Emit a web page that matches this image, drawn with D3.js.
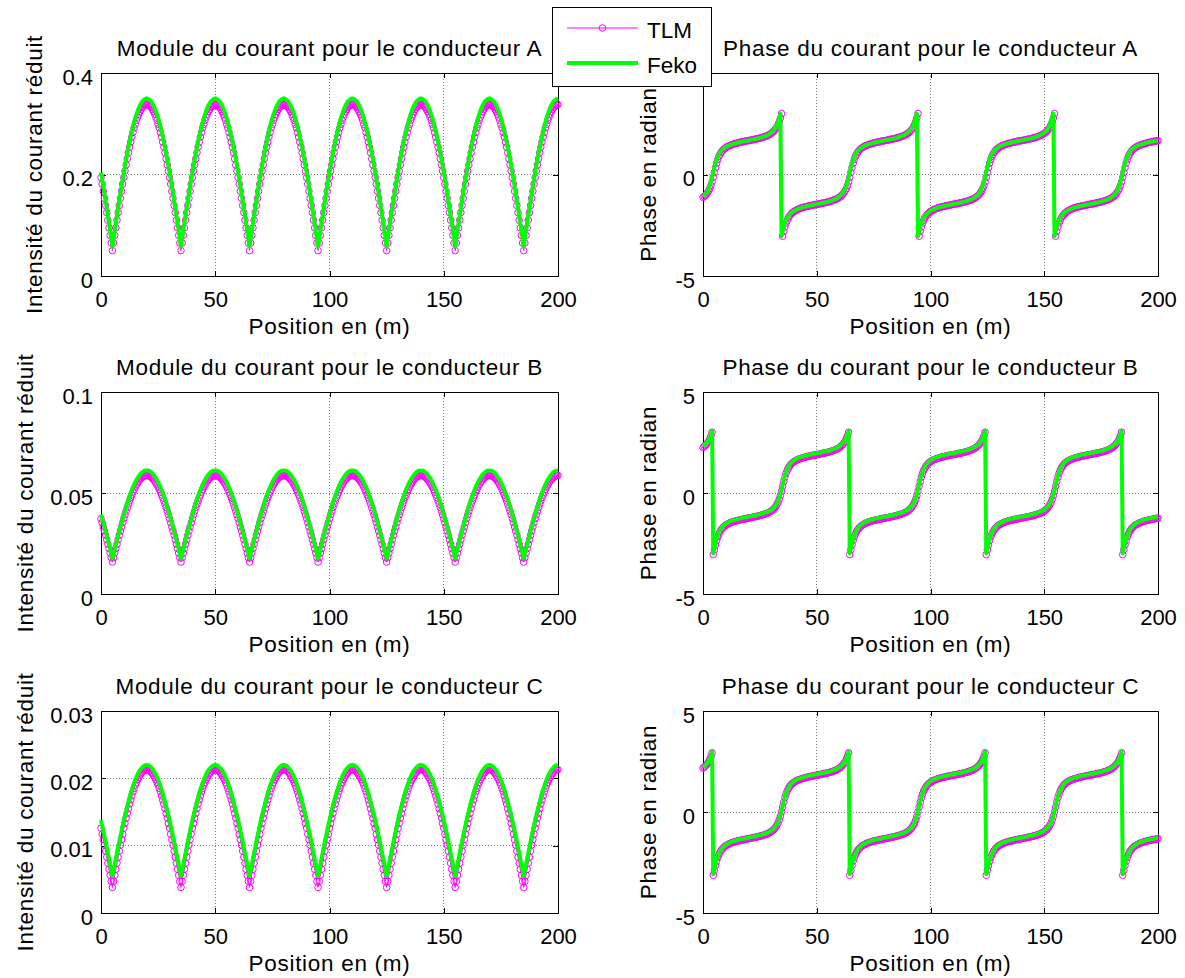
<!DOCTYPE html>
<html>
<head>
<meta charset="utf-8">
<script src="https://cdn.jsdelivr.net/npm/d3@7"></script>
<style>
  body { margin: 0; background: #fff; }
  svg { display: block; }
</style>
</head>
<body>
<svg id="fig" width="1185" height="978"></svg>
<script>
// ---- Axis ticks and text ----
const X_MAX = 200;
const xTickValues = [0, 50, 100, 150, 200];
const xTickLabels = ["0", "50", "100", "150", "200"];
const modATicks = [0, 0.2, 0.4];
const modATickLabels = ["0", "0.2", "0.4"];
const modBTicks = [0, 0.05, 0.1];
const modBTickLabels = ["0", "0.05", "0.1"];
const modCTicks = [0, 0.01, 0.02, 0.03];
const modCTickLabels = ["0", "0.01", "0.02", "0.03"];
const phaseTicks = [-5, 0, 5];
const phaseTickLabels = ["-5", "0", "5"];
const titles = [
  "Module du courant pour le conducteur A", "Phase du courant pour le conducteur A",
  "Module du courant pour le conducteur B", "Phase du courant pour le conducteur B",
  "Module du courant pour le conducteur C", "Phase du courant pour le conducteur C"
];
const yLabelModule = "Intensité du courant réduit";
const yLabelPhase = "Phase en radian";
const xLabel = "Position en (m)";
const seriesNames = ["TLM", "Feko"];

// ---- Current magnitude, conductor A (Feko every 1 m, TLM every 0.5 m) ----
const fekoModA = [.204,.177,.148,.119,.089,
.058,.089,.119,.148,.177,.204,.230,.253,.275,.294,.311,.325,.336,.344,.348,.350,.348,.344,.336,.325,.311,.294,.275,.253,.230,.204,.177,.148,.119,.089,
.058,.089,.119,.148,.177,.204,.230,.253,.275,.294,.311,.325,.336,.344,.348,.350,.348,.344,.336,.325,.311,.294,.275,.253,.230,.204,.177,.148,.119,.089,
.058,.089,.119,.148,.177,.204,.230,.253,.275,.294,.311,.325,.336,.344,.348,.350,.348,.344,.336,.325,.311,.294,.275,.253,.230,.204,.177,.148,.119,.089,
.058,.089,.119,.148,.177,.204,.230,.253,.275,.294,.311,.325,.336,.344,.348,.350,.348,.344,.336,.325,.311,.294,.275,.253,.230,.204,.177,.148,.119,.089,
.058,.089,.119,.148,.177,.204,.230,.253,.275,.294,.311,.325,.336,.344,.348,.350,.348,.344,.336,.325,.311,.294,.275,.253,.230,.204,.177,.148,.119,.089,
.058,.089,.119,.148,.177,.204,.230,.253,.275,.294,.311,.325,.336,.344,.348,.350,.348,.344,.336,.325,.311,.294,.275,.253,.230,.204,.177,.148,.119,.089,
.058,.089,.119,.148,.177,.204,.230,.253,.275,.294,.311,.325,.336,.344,.348,.350];

const tlmModA = [.194,.181,.167,.153,.139,.125,.110,.095,.080,.065,
.050,.065,.080,.095,.110,.125,.139,.153,.167,.181,.194,.207,.219,.231,.243,.254,.264,.274,.283,.292,.299,.307,.313,.319,.324,.328,.332,.334,.336,.338,.338,.338,.336,.334,.332,.328,.324,.319,.313,.307,.299,.292,.283,.274,.264,.254,.243,.231,.219,.207,.194,.181,.167,.153,.139,.125,.110,.095,.080,.065,
.050,.065,.080,.095,.110,.125,.139,.153,.167,.181,.194,.207,.219,.231,.243,.254,.264,.274,.283,.292,.299,.307,.313,.319,.324,.328,.332,.334,.336,.338,.338,.338,.336,.334,.332,.328,.324,.319,.313,.307,.299,.292,.283,.274,.264,.254,.243,.231,.219,.207,.194,.181,.167,.153,.139,.125,.110,.095,.080,.065,
.050,.065,.080,.095,.110,.125,.139,.153,.167,.181,.194,.207,.219,.231,.243,.254,.264,.274,.283,.292,.299,.307,.313,.319,.324,.328,.332,.334,.336,.338,.338,.338,.336,.334,.332,.328,.324,.319,.313,.307,.299,.292,.283,.274,.264,.254,.243,.231,.219,.207,.194,.181,.167,.153,.139,.125,.110,.095,.080,.065,
.050,.065,.080,.095,.110,.125,.139,.153,.167,.181,.194,.207,.219,.231,.243,.254,.264,.274,.283,.292,.299,.307,.313,.319,.324,.328,.332,.334,.336,.338,.338,.338,.336,.334,.332,.328,.324,.319,.313,.307,.299,.292,.283,.274,.264,.254,.243,.231,.219,.207,.194,.181,.167,.153,.139,.125,.110,.095,.080,.065,
.050,.065,.080,.095,.110,.125,.139,.153,.167,.181,.194,.207,.219,.231,.243,.254,.264,.274,.283,.292,.299,.307,.313,.319,.324,.328,.332,.334,.336,.338,.338,.338,.336,.334,.332,.328,.324,.319,.313,.307,.299,.292,.283,.274,.264,.254,.243,.231,.219,.207,.194,.181,.167,.153,.139,.125,.110,.095,.080,.065,
.050,.065,.080,.095,.110,.125,.139,.153,.167,.181,.194,.207,.219,.231,.243,.254,.264,.274,.283,.292,.299,.307,.313,.319,.324,.328,.332,.334,.336,.338,.338,.338,.336,.334,.332,.328,.324,.319,.313,.307,.299,.292,.283,.274,.264,.254,.243,.231,.219,.207,.194,.181,.167,.153,.139,.125,.110,.095,.080,.065,
.050,.065,.080,.095,.110,.125,.139,.153,.167,.181,.194,.207,.219,.231,.243,.254,.264,.274,.283,.292,.299,.307,.313,.319,.324,.328,.332,.334,.336,.338,.338];

// ---- Current magnitude, conductor B ----
const fekoModB = [.0394,.0353,.0311,.0267,.0222,
.0176,.0222,.0267,.0311,.0353,.0394,.0432,.0468,.0500,.0529,.0554,.0574,.0591,.0603,.0610,.0612,.0610,.0603,.0591,.0574,.0554,.0529,.0500,.0468,.0432,.0394,.0353,.0311,.0267,.0222,
.0176,.0222,.0267,.0311,.0353,.0394,.0432,.0468,.0500,.0529,.0554,.0574,.0591,.0603,.0610,.0612,.0610,.0603,.0591,.0574,.0554,.0529,.0500,.0468,.0432,.0394,.0353,.0311,.0267,.0222,
.0176,.0222,.0267,.0311,.0353,.0394,.0432,.0468,.0500,.0529,.0554,.0574,.0591,.0603,.0610,.0612,.0610,.0603,.0591,.0574,.0554,.0529,.0500,.0468,.0432,.0394,.0353,.0311,.0267,.0222,
.0176,.0222,.0267,.0311,.0353,.0394,.0432,.0468,.0500,.0529,.0554,.0574,.0591,.0603,.0610,.0612,.0610,.0603,.0591,.0574,.0554,.0529,.0500,.0468,.0432,.0394,.0353,.0311,.0267,.0222,
.0176,.0222,.0267,.0311,.0353,.0394,.0432,.0468,.0500,.0529,.0554,.0574,.0591,.0603,.0610,.0612,.0610,.0603,.0591,.0574,.0554,.0529,.0500,.0468,.0432,.0394,.0353,.0311,.0267,.0222,
.0176,.0222,.0267,.0311,.0353,.0394,.0432,.0468,.0500,.0529,.0554,.0574,.0591,.0603,.0610,.0612,.0610,.0603,.0591,.0574,.0554,.0529,.0500,.0468,.0432,.0394,.0353,.0311,.0267,.0222,
.0176,.0222,.0267,.0311,.0353,.0394,.0432,.0468,.0500,.0529,.0554,.0574,.0591,.0603,.0610,.0612];

const tlmModB = [.0373,.0353,.0332,.0312,.0291,.0269,.0247,.0225,.0203,.0180,
.0158,.0180,.0203,.0225,.0247,.0269,.0291,.0312,.0332,.0353,.0373,.0392,.0410,.0428,.0445,.0461,.0477,.0491,.0505,.0518,.0530,.0540,.0550,.0559,.0566,.0572,.0578,.0582,.0585,.0586,.0587,.0586,.0585,.0582,.0578,.0572,.0566,.0559,.0550,.0540,.0530,.0518,.0505,.0491,.0477,.0461,.0445,.0428,.0410,.0392,.0373,.0353,.0332,.0312,.0291,.0269,.0247,.0225,.0203,.0180,
.0158,.0180,.0203,.0225,.0247,.0269,.0291,.0312,.0332,.0353,.0373,.0392,.0410,.0428,.0445,.0461,.0477,.0491,.0505,.0518,.0530,.0540,.0550,.0559,.0566,.0572,.0578,.0582,.0585,.0586,.0587,.0586,.0585,.0582,.0578,.0572,.0566,.0559,.0550,.0540,.0530,.0518,.0505,.0491,.0477,.0461,.0445,.0428,.0410,.0392,.0373,.0353,.0332,.0312,.0291,.0269,.0247,.0225,.0203,.0180,
.0158,.0180,.0203,.0225,.0247,.0269,.0291,.0312,.0332,.0353,.0373,.0392,.0410,.0428,.0445,.0461,.0477,.0491,.0505,.0518,.0530,.0540,.0550,.0559,.0566,.0572,.0578,.0582,.0585,.0586,.0587,.0586,.0585,.0582,.0578,.0572,.0566,.0559,.0550,.0540,.0530,.0518,.0505,.0491,.0477,.0461,.0445,.0428,.0410,.0392,.0373,.0353,.0332,.0312,.0291,.0269,.0247,.0225,.0203,.0180,
.0158,.0180,.0203,.0225,.0247,.0269,.0291,.0312,.0332,.0353,.0373,.0392,.0410,.0428,.0445,.0461,.0477,.0491,.0505,.0518,.0530,.0540,.0550,.0559,.0566,.0572,.0578,.0582,.0585,.0586,.0587,.0586,.0585,.0582,.0578,.0572,.0566,.0559,.0550,.0540,.0530,.0518,.0505,.0491,.0477,.0461,.0445,.0428,.0410,.0392,.0373,.0353,.0332,.0312,.0291,.0269,.0247,.0225,.0203,.0180,
.0158,.0180,.0203,.0225,.0247,.0269,.0291,.0312,.0332,.0353,.0373,.0392,.0410,.0428,.0445,.0461,.0477,.0491,.0505,.0518,.0530,.0540,.0550,.0559,.0566,.0572,.0578,.0582,.0585,.0586,.0587,.0586,.0585,.0582,.0578,.0572,.0566,.0559,.0550,.0540,.0530,.0518,.0505,.0491,.0477,.0461,.0445,.0428,.0410,.0392,.0373,.0353,.0332,.0312,.0291,.0269,.0247,.0225,.0203,.0180,
.0158,.0180,.0203,.0225,.0247,.0269,.0291,.0312,.0332,.0353,.0373,.0392,.0410,.0428,.0445,.0461,.0477,.0491,.0505,.0518,.0530,.0540,.0550,.0559,.0566,.0572,.0578,.0582,.0585,.0586,.0587,.0586,.0585,.0582,.0578,.0572,.0566,.0559,.0550,.0540,.0530,.0518,.0505,.0491,.0477,.0461,.0445,.0428,.0410,.0392,.0373,.0353,.0332,.0312,.0291,.0269,.0247,.0225,.0203,.0180,
.0158,.0180,.0203,.0225,.0247,.0269,.0291,.0312,.0332,.0353,.0373,.0392,.0410,.0428,.0445,.0461,.0477,.0491,.0505,.0518,.0530,.0540,.0550,.0559,.0566,.0572,.0578,.0582,.0585,.0586,.0587];

// ---- Current magnitude, conductor C ----
const fekoModC = [.0138,.0122,.0106,.0089,.0072,
.0055,.0072,.0089,.0106,.0122,.0138,.0152,.0165,.0178,.0188,.0198,.0206,.0212,.0216,.0219,.0220,.0219,.0216,.0212,.0206,.0198,.0188,.0178,.0165,.0152,.0138,.0122,.0106,.0089,.0072,
.0055,.0072,.0089,.0106,.0122,.0138,.0152,.0165,.0178,.0188,.0198,.0206,.0212,.0216,.0219,.0220,.0219,.0216,.0212,.0206,.0198,.0188,.0178,.0165,.0152,.0138,.0122,.0106,.0089,.0072,
.0055,.0072,.0089,.0106,.0122,.0138,.0152,.0165,.0178,.0188,.0198,.0206,.0212,.0216,.0219,.0220,.0219,.0216,.0212,.0206,.0198,.0188,.0178,.0165,.0152,.0138,.0122,.0106,.0089,.0072,
.0055,.0072,.0089,.0106,.0122,.0138,.0152,.0165,.0178,.0188,.0198,.0206,.0212,.0216,.0219,.0220,.0219,.0216,.0212,.0206,.0198,.0188,.0178,.0165,.0152,.0138,.0122,.0106,.0089,.0072,
.0055,.0072,.0089,.0106,.0122,.0138,.0152,.0165,.0178,.0188,.0198,.0206,.0212,.0216,.0219,.0220,.0219,.0216,.0212,.0206,.0198,.0188,.0178,.0165,.0152,.0138,.0122,.0106,.0089,.0072,
.0055,.0072,.0089,.0106,.0122,.0138,.0152,.0165,.0178,.0188,.0198,.0206,.0212,.0216,.0219,.0220,.0219,.0216,.0212,.0206,.0198,.0188,.0178,.0165,.0152,.0138,.0122,.0106,.0089,.0072,
.0055,.0072,.0089,.0106,.0122,.0138,.0152,.0165,.0178,.0188,.0198,.0206,.0212,.0216,.0219,.0220];

const tlmModC = [.0126,.0117,.0109,.0101,.0092,.0083,.0074,.0065,.0056,.0047,
.0038,.0047,.0056,.0065,.0074,.0083,.0092,.0101,.0109,.0117,.0126,.0133,.0141,.0148,.0155,.0162,.0168,.0174,.0180,.0185,.0190,.0194,.0198,.0201,.0204,.0207,.0209,.0211,.0212,.0213,.0213,.0213,.0212,.0211,.0209,.0207,.0204,.0201,.0198,.0194,.0190,.0185,.0180,.0174,.0168,.0162,.0155,.0148,.0141,.0133,.0126,.0117,.0109,.0101,.0092,.0083,.0074,.0065,.0056,.0047,
.0038,.0047,.0056,.0065,.0074,.0083,.0092,.0101,.0109,.0117,.0126,.0133,.0141,.0148,.0155,.0162,.0168,.0174,.0180,.0185,.0190,.0194,.0198,.0201,.0204,.0207,.0209,.0211,.0212,.0213,.0213,.0213,.0212,.0211,.0209,.0207,.0204,.0201,.0198,.0194,.0190,.0185,.0180,.0174,.0168,.0162,.0155,.0148,.0141,.0133,.0126,.0117,.0109,.0101,.0092,.0083,.0074,.0065,.0056,.0047,
.0038,.0047,.0056,.0065,.0074,.0083,.0092,.0101,.0109,.0117,.0126,.0133,.0141,.0148,.0155,.0162,.0168,.0174,.0180,.0185,.0190,.0194,.0198,.0201,.0204,.0207,.0209,.0211,.0212,.0213,.0213,.0213,.0212,.0211,.0209,.0207,.0204,.0201,.0198,.0194,.0190,.0185,.0180,.0174,.0168,.0162,.0155,.0148,.0141,.0133,.0126,.0117,.0109,.0101,.0092,.0083,.0074,.0065,.0056,.0047,
.0038,.0047,.0056,.0065,.0074,.0083,.0092,.0101,.0109,.0117,.0126,.0133,.0141,.0148,.0155,.0162,.0168,.0174,.0180,.0185,.0190,.0194,.0198,.0201,.0204,.0207,.0209,.0211,.0212,.0213,.0213,.0213,.0212,.0211,.0209,.0207,.0204,.0201,.0198,.0194,.0190,.0185,.0180,.0174,.0168,.0162,.0155,.0148,.0141,.0133,.0126,.0117,.0109,.0101,.0092,.0083,.0074,.0065,.0056,.0047,
.0038,.0047,.0056,.0065,.0074,.0083,.0092,.0101,.0109,.0117,.0126,.0133,.0141,.0148,.0155,.0162,.0168,.0174,.0180,.0185,.0190,.0194,.0198,.0201,.0204,.0207,.0209,.0211,.0212,.0213,.0213,.0213,.0212,.0211,.0209,.0207,.0204,.0201,.0198,.0194,.0190,.0185,.0180,.0174,.0168,.0162,.0155,.0148,.0141,.0133,.0126,.0117,.0109,.0101,.0092,.0083,.0074,.0065,.0056,.0047,
.0038,.0047,.0056,.0065,.0074,.0083,.0092,.0101,.0109,.0117,.0126,.0133,.0141,.0148,.0155,.0162,.0168,.0174,.0180,.0185,.0190,.0194,.0198,.0201,.0204,.0207,.0209,.0211,.0212,.0213,.0213,.0213,.0212,.0211,.0209,.0207,.0204,.0201,.0198,.0194,.0190,.0185,.0180,.0174,.0168,.0162,.0155,.0148,.0141,.0133,.0126,.0117,.0109,.0101,.0092,.0083,.0074,.0065,.0056,.0047,
.0038,.0047,.0056,.0065,.0074,.0083,.0092,.0101,.0109,.0117,.0126,.0133,.0141,.0148,.0155,.0162,.0168,.0174,.0180,.0185,.0190,.0194,.0198,.0201,.0204,.0207,.0209,.0211,.0212,.0213,.0213];

// ---- Current phase, conductor A (radians, every 0.5 m) ----
const fekoPhaseA = [-1.08,-1.03,-.97,-.89,-.80,-.69,-.54,-.36,-.14,
.10,.34,.56,.74,.89,1.00,1.09,1.17,1.23,1.28,1.32,1.36,1.39,1.42,1.44,1.46,1.48,1.50,1.52,1.53,1.55,1.56,1.58,1.59,1.60,1.61,1.63,1.64,1.65,1.66,1.67,1.68,1.69,1.70,1.72,1.73,1.74,1.75,1.76,1.78,1.79,1.81,1.82,1.84,1.86,1.88,1.90,1.93,1.95,1.99,2.02,2.07,2.12,2.18,2.25,2.34,2.46,2.60,2.78,3.00,
-3.04,-2.80,-2.58,-2.40,-2.26,-2.14,-2.05,-1.98,-1.92,-1.87,-1.82,-1.79,-1.76,-1.73,-1.70,-1.68,-1.66,-1.64,-1.62,-1.61,-1.59,-1.58,-1.57,-1.55,-1.54,-1.53,-1.52,-1.51,-1.49,-1.48,-1.47,-1.46,-1.45,-1.44,-1.43,-1.41,-1.40,-1.39,-1.38,-1.36,-1.35,-1.33,-1.32,-1.30,-1.28,-1.26,-1.24,-1.22,-1.19,-1.16,-1.12,-1.08,-1.03,-.97,-.89,-.80,-.69,-.54,-.36,-.14,
.10,.34,.56,.74,.89,1.00,1.09,1.17,1.23,1.28,1.32,1.36,1.39,1.42,1.44,1.46,1.48,1.50,1.52,1.53,1.55,1.56,1.58,1.59,1.60,1.61,1.63,1.64,1.65,1.66,1.67,1.68,1.69,1.70,1.72,1.73,1.74,1.75,1.76,1.78,1.79,1.81,1.82,1.84,1.86,1.88,1.90,1.93,1.95,1.99,2.02,2.07,2.12,2.18,2.25,2.34,2.46,2.60,2.78,3.00,
-3.04,-2.80,-2.58,-2.40,-2.26,-2.14,-2.05,-1.98,-1.92,-1.87,-1.82,-1.79,-1.76,-1.73,-1.70,-1.68,-1.66,-1.64,-1.62,-1.61,-1.59,-1.58,-1.57,-1.55,-1.54,-1.53,-1.52,-1.51,-1.49,-1.48,-1.47,-1.46,-1.45,-1.44,-1.43,-1.41,-1.40,-1.39,-1.38,-1.36,-1.35,-1.33,-1.32,-1.30,-1.28,-1.26,-1.24,-1.22,-1.19,-1.16,-1.12,-1.08,-1.03,-.97,-.89,-.80,-.69,-.54,-.36,-.14,
.10,.34,.56,.74,.89,1.00,1.09,1.17,1.23,1.28,1.32,1.36,1.39,1.42,1.44,1.46,1.48,1.50,1.52,1.53,1.55,1.56,1.58,1.59,1.60,1.61,1.63,1.64,1.65,1.66,1.67,1.68,1.69,1.70,1.72,1.73,1.74,1.75,1.76,1.78,1.79,1.81,1.82,1.84,1.86,1.88,1.90,1.93,1.95,1.99,2.02,2.07,2.12,2.18,2.25,2.34,2.46,2.60,2.78,3.00,
-3.04,-2.80,-2.58,-2.40,-2.26,-2.14,-2.05,-1.98,-1.92,-1.87,-1.82,-1.79,-1.76,-1.73,-1.70,-1.68,-1.66,-1.64,-1.62,-1.61,-1.59,-1.58,-1.57,-1.55,-1.54,-1.53,-1.52,-1.51,-1.49,-1.48,-1.47,-1.46,-1.45,-1.44,-1.43,-1.41,-1.40,-1.39,-1.38,-1.36,-1.35,-1.33,-1.32,-1.30,-1.28,-1.26,-1.24,-1.22,-1.19,-1.16,-1.12,-1.08,-1.03,-.97,-.89,-.80,-.69,-.54,-.36,-.14,
.10,.34,.56,.74,.89,1.00,1.09,1.17,1.23,1.28,1.32,1.36,1.39,1.42,1.44,1.46,1.48,1.50,1.52,1.53,1.55,1.56,1.58,1.59,1.60,1.61,1.63,1.64,1.65,1.66,1.67,1.68];

const tlmPhaseA = [-1.12,-1.08,-1.03,-.97,-.89,-.80,-.69,-.54,-.36,-.14,
.10,.34,.56,.74,.89,1.00,1.09,1.17,1.23,1.28,1.32,1.36,1.39,1.42,1.44,1.46,1.48,1.50,1.52,1.53,1.55,1.56,1.58,1.59,1.60,1.61,1.63,1.64,1.65,1.66,1.67,1.68,1.69,1.70,1.72,1.73,1.74,1.75,1.76,1.78,1.79,1.81,1.82,1.84,1.86,1.88,1.90,1.93,1.95,1.99,2.02,2.07,2.12,2.18,2.25,2.34,2.46,2.60,2.78,3.00,
-3.04,-2.80,-2.58,-2.40,-2.26,-2.14,-2.05,-1.98,-1.92,-1.87,-1.82,-1.79,-1.76,-1.73,-1.70,-1.68,-1.66,-1.64,-1.62,-1.61,-1.59,-1.58,-1.57,-1.55,-1.54,-1.53,-1.52,-1.51,-1.49,-1.48,-1.47,-1.46,-1.45,-1.44,-1.43,-1.41,-1.40,-1.39,-1.38,-1.36,-1.35,-1.33,-1.32,-1.30,-1.28,-1.26,-1.24,-1.22,-1.19,-1.16,-1.12,-1.08,-1.03,-.97,-.89,-.80,-.69,-.54,-.36,-.14,
.10,.34,.56,.74,.89,1.00,1.09,1.17,1.23,1.28,1.32,1.36,1.39,1.42,1.44,1.46,1.48,1.50,1.52,1.53,1.55,1.56,1.58,1.59,1.60,1.61,1.63,1.64,1.65,1.66,1.67,1.68,1.69,1.70,1.72,1.73,1.74,1.75,1.76,1.78,1.79,1.81,1.82,1.84,1.86,1.88,1.90,1.93,1.95,1.99,2.02,2.07,2.12,2.18,2.25,2.34,2.46,2.60,2.78,3.00,
-3.04,-2.80,-2.58,-2.40,-2.26,-2.14,-2.05,-1.98,-1.92,-1.87,-1.82,-1.79,-1.76,-1.73,-1.70,-1.68,-1.66,-1.64,-1.62,-1.61,-1.59,-1.58,-1.57,-1.55,-1.54,-1.53,-1.52,-1.51,-1.49,-1.48,-1.47,-1.46,-1.45,-1.44,-1.43,-1.41,-1.40,-1.39,-1.38,-1.36,-1.35,-1.33,-1.32,-1.30,-1.28,-1.26,-1.24,-1.22,-1.19,-1.16,-1.12,-1.08,-1.03,-.97,-.89,-.80,-.69,-.54,-.36,-.14,
.10,.34,.56,.74,.89,1.00,1.09,1.17,1.23,1.28,1.32,1.36,1.39,1.42,1.44,1.46,1.48,1.50,1.52,1.53,1.55,1.56,1.58,1.59,1.60,1.61,1.63,1.64,1.65,1.66,1.67,1.68,1.69,1.70,1.72,1.73,1.74,1.75,1.76,1.78,1.79,1.81,1.82,1.84,1.86,1.88,1.90,1.93,1.95,1.99,2.02,2.07,2.12,2.18,2.25,2.34,2.46,2.60,2.78,3.00,
-3.04,-2.80,-2.58,-2.40,-2.26,-2.14,-2.05,-1.98,-1.92,-1.87,-1.82,-1.79,-1.76,-1.73,-1.70,-1.68,-1.66,-1.64,-1.62,-1.61,-1.59,-1.58,-1.57,-1.55,-1.54,-1.53,-1.52,-1.51,-1.49,-1.48,-1.47,-1.46,-1.45,-1.44,-1.43,-1.41,-1.40,-1.39,-1.38,-1.36,-1.35,-1.33,-1.32,-1.30,-1.28,-1.26,-1.24,-1.22,-1.19,-1.16,-1.12,-1.08,-1.03,-.97,-.89,-.80,-.69,-.54,-.36,-.14,
.10,.34,.56,.74,.89,1.00,1.09,1.17,1.23,1.28,1.32,1.36,1.39,1.42,1.44,1.46,1.48,1.50,1.52,1.53,1.55,1.56,1.58,1.59,1.60,1.61,1.63,1.64,1.65,1.66,1.67];

// ---- Current phase, conductor B ----
const fekoPhaseB = [2.32,2.37,2.42,2.48,2.55,2.64,2.76,2.90,3.08,-2.98,
-2.74,-2.50,-2.28,-2.10,-1.96,-1.84,-1.75,-1.68,-1.62,-1.57,-1.52,-1.49,-1.46,-1.43,-1.40,-1.38,-1.36,-1.34,-1.32,-1.31,-1.29,-1.28,-1.27,-1.25,-1.24,-1.23,-1.22,-1.21,-1.19,-1.18,-1.17,-1.16,-1.15,-1.14,-1.13,-1.11,-1.10,-1.09,-1.08,-1.06,-1.05,-1.03,-1.02,-1.00,-.98,-.96,-.94,-.92,-.89,-.86,-.82,-.78,-.73,-.67,-.59,-.50,-.39,-.24,-.06,.16,
.40,.64,.86,1.04,1.19,1.30,1.39,1.47,1.53,1.58,1.62,1.66,1.69,1.72,1.74,1.76,1.78,1.80,1.82,1.83,1.85,1.86,1.88,1.89,1.90,1.91,1.93,1.94,1.95,1.96,1.97,1.98,1.99,2.00,2.02,2.03,2.04,2.05,2.06,2.08,2.09,2.11,2.12,2.14,2.16,2.18,2.20,2.23,2.25,2.29,2.32,2.37,2.42,2.48,2.55,2.64,2.76,2.90,3.08,-2.98,
-2.74,-2.50,-2.28,-2.10,-1.96,-1.84,-1.75,-1.68,-1.62,-1.57,-1.52,-1.49,-1.46,-1.43,-1.40,-1.38,-1.36,-1.34,-1.32,-1.31,-1.29,-1.28,-1.27,-1.25,-1.24,-1.23,-1.22,-1.21,-1.19,-1.18,-1.17,-1.16,-1.15,-1.14,-1.13,-1.11,-1.10,-1.09,-1.08,-1.06,-1.05,-1.03,-1.02,-1.00,-.98,-.96,-.94,-.92,-.89,-.86,-.82,-.78,-.73,-.67,-.59,-.50,-.39,-.24,-.06,.16,
.40,.64,.86,1.04,1.19,1.30,1.39,1.47,1.53,1.58,1.62,1.66,1.69,1.72,1.74,1.76,1.78,1.80,1.82,1.83,1.85,1.86,1.88,1.89,1.90,1.91,1.93,1.94,1.95,1.96,1.97,1.98,1.99,2.00,2.02,2.03,2.04,2.05,2.06,2.08,2.09,2.11,2.12,2.14,2.16,2.18,2.20,2.23,2.25,2.29,2.32,2.37,2.42,2.48,2.55,2.64,2.76,2.90,3.08,-2.98,
-2.74,-2.50,-2.28,-2.10,-1.96,-1.84,-1.75,-1.68,-1.62,-1.57,-1.52,-1.49,-1.46,-1.43,-1.40,-1.38,-1.36,-1.34,-1.32,-1.31,-1.29,-1.28,-1.27,-1.25,-1.24,-1.23,-1.22,-1.21,-1.19,-1.18,-1.17,-1.16,-1.15,-1.14,-1.13,-1.11,-1.10,-1.09,-1.08,-1.06,-1.05,-1.03,-1.02,-1.00,-.98,-.96,-.94,-.92,-.89,-.86,-.82,-.78,-.73,-.67,-.59,-.50,-.39,-.24,-.06,.16,
.40,.64,.86,1.04,1.19,1.30,1.39,1.47,1.53,1.58,1.62,1.66,1.69,1.72,1.74,1.76,1.78,1.80,1.82,1.83,1.85,1.86,1.88,1.89,1.90,1.91,1.93,1.94,1.95,1.96,1.97,1.98,1.99,2.00,2.02,2.03,2.04,2.05,2.06,2.08,2.09,2.11,2.12,2.14,2.16,2.18,2.20,2.23,2.25,2.29,2.32,2.37,2.42,2.48,2.55,2.64,2.76,2.90,3.08,-2.98,
-2.74,-2.50,-2.28,-2.10,-1.96,-1.84,-1.75,-1.68,-1.62,-1.57,-1.52,-1.49,-1.46,-1.43,-1.40,-1.38,-1.36,-1.34,-1.32,-1.31,-1.29,-1.28,-1.27,-1.25,-1.24,-1.23,-1.22,-1.21,-1.19,-1.18,-1.17];

const tlmPhaseB = [2.25,2.30,2.35,2.41,2.48,2.57,2.69,2.83,3.01,-3.05,
-2.81,-2.57,-2.35,-2.17,-2.03,-1.91,-1.82,-1.75,-1.69,-1.64,-1.59,-1.56,-1.53,-1.50,-1.47,-1.45,-1.43,-1.41,-1.39,-1.38,-1.36,-1.35,-1.34,-1.32,-1.31,-1.30,-1.29,-1.28,-1.26,-1.25,-1.24,-1.23,-1.22,-1.21,-1.20,-1.18,-1.17,-1.16,-1.15,-1.13,-1.12,-1.10,-1.09,-1.07,-1.05,-1.03,-1.01,-.99,-.96,-.93,-.89,-.85,-.80,-.74,-.66,-.57,-.46,-.31,-.13,.09,
.33,.57,.79,.97,1.12,1.23,1.32,1.40,1.46,1.51,1.55,1.59,1.62,1.65,1.67,1.69,1.71,1.73,1.75,1.76,1.78,1.79,1.81,1.82,1.83,1.84,1.86,1.87,1.88,1.89,1.90,1.91,1.92,1.93,1.95,1.96,1.97,1.98,1.99,2.01,2.02,2.04,2.05,2.07,2.09,2.11,2.13,2.16,2.18,2.22,2.25,2.30,2.35,2.41,2.48,2.57,2.69,2.83,3.01,-3.05,
-2.81,-2.57,-2.35,-2.17,-2.03,-1.91,-1.82,-1.75,-1.69,-1.64,-1.59,-1.56,-1.53,-1.50,-1.47,-1.45,-1.43,-1.41,-1.39,-1.38,-1.36,-1.35,-1.34,-1.32,-1.31,-1.30,-1.29,-1.28,-1.26,-1.25,-1.24,-1.23,-1.22,-1.21,-1.20,-1.18,-1.17,-1.16,-1.15,-1.13,-1.12,-1.10,-1.09,-1.07,-1.05,-1.03,-1.01,-.99,-.96,-.93,-.89,-.85,-.80,-.74,-.66,-.57,-.46,-.31,-.13,.09,
.33,.57,.79,.97,1.12,1.23,1.32,1.40,1.46,1.51,1.55,1.59,1.62,1.65,1.67,1.69,1.71,1.73,1.75,1.76,1.78,1.79,1.81,1.82,1.83,1.84,1.86,1.87,1.88,1.89,1.90,1.91,1.92,1.93,1.95,1.96,1.97,1.98,1.99,2.01,2.02,2.04,2.05,2.07,2.09,2.11,2.13,2.16,2.18,2.22,2.25,2.30,2.35,2.41,2.48,2.57,2.69,2.83,3.01,-3.05,
-2.81,-2.57,-2.35,-2.17,-2.03,-1.91,-1.82,-1.75,-1.69,-1.64,-1.59,-1.56,-1.53,-1.50,-1.47,-1.45,-1.43,-1.41,-1.39,-1.38,-1.36,-1.35,-1.34,-1.32,-1.31,-1.30,-1.29,-1.28,-1.26,-1.25,-1.24,-1.23,-1.22,-1.21,-1.20,-1.18,-1.17,-1.16,-1.15,-1.13,-1.12,-1.10,-1.09,-1.07,-1.05,-1.03,-1.01,-.99,-.96,-.93,-.89,-.85,-.80,-.74,-.66,-.57,-.46,-.31,-.13,.09,
.33,.57,.79,.97,1.12,1.23,1.32,1.40,1.46,1.51,1.55,1.59,1.62,1.65,1.67,1.69,1.71,1.73,1.75,1.76,1.78,1.79,1.81,1.82,1.83,1.84,1.86,1.87,1.88,1.89,1.90,1.91,1.92,1.93,1.95,1.96,1.97,1.98,1.99,2.01,2.02,2.04,2.05,2.07,2.09,2.11,2.13,2.16,2.18,2.22,2.25,2.30,2.35,2.41,2.48,2.57,2.69,2.83,3.01,-3.05,
-2.81,-2.57,-2.35,-2.17,-2.03,-1.91,-1.82,-1.75,-1.69,-1.64,-1.59,-1.56,-1.53,-1.50,-1.47,-1.45,-1.43,-1.41,-1.39,-1.38,-1.36,-1.35,-1.34,-1.32,-1.31,-1.30,-1.29,-1.28,-1.26,-1.25,-1.24];

// ---- Current phase, conductor C ----
const fekoPhaseC = [2.22,2.27,2.32,2.38,2.45,2.54,2.66,2.80,2.98,-3.08,
-2.84,-2.60,-2.38,-2.20,-2.06,-1.94,-1.85,-1.78,-1.72,-1.67,-1.62,-1.59,-1.56,-1.53,-1.50,-1.48,-1.46,-1.44,-1.42,-1.41,-1.39,-1.38,-1.37,-1.35,-1.34,-1.33,-1.32,-1.31,-1.29,-1.28,-1.27,-1.26,-1.25,-1.24,-1.23,-1.21,-1.20,-1.19,-1.18,-1.16,-1.15,-1.13,-1.12,-1.10,-1.08,-1.06,-1.04,-1.02,-.99,-.96,-.92,-.88,-.83,-.77,-.69,-.60,-.49,-.34,-.16,.06,
.30,.54,.76,.94,1.09,1.20,1.29,1.37,1.43,1.48,1.52,1.56,1.59,1.62,1.64,1.66,1.68,1.70,1.72,1.73,1.75,1.76,1.78,1.79,1.80,1.81,1.83,1.84,1.85,1.86,1.87,1.88,1.89,1.90,1.92,1.93,1.94,1.95,1.96,1.98,1.99,2.01,2.02,2.04,2.06,2.08,2.10,2.13,2.15,2.19,2.22,2.27,2.32,2.38,2.45,2.54,2.66,2.80,2.98,-3.08,
-2.84,-2.60,-2.38,-2.20,-2.06,-1.94,-1.85,-1.78,-1.72,-1.67,-1.62,-1.59,-1.56,-1.53,-1.50,-1.48,-1.46,-1.44,-1.42,-1.41,-1.39,-1.38,-1.37,-1.35,-1.34,-1.33,-1.32,-1.31,-1.29,-1.28,-1.27,-1.26,-1.25,-1.24,-1.23,-1.21,-1.20,-1.19,-1.18,-1.16,-1.15,-1.13,-1.12,-1.10,-1.08,-1.06,-1.04,-1.02,-.99,-.96,-.92,-.88,-.83,-.77,-.69,-.60,-.49,-.34,-.16,.06,
.30,.54,.76,.94,1.09,1.20,1.29,1.37,1.43,1.48,1.52,1.56,1.59,1.62,1.64,1.66,1.68,1.70,1.72,1.73,1.75,1.76,1.78,1.79,1.80,1.81,1.83,1.84,1.85,1.86,1.87,1.88,1.89,1.90,1.92,1.93,1.94,1.95,1.96,1.98,1.99,2.01,2.02,2.04,2.06,2.08,2.10,2.13,2.15,2.19,2.22,2.27,2.32,2.38,2.45,2.54,2.66,2.80,2.98,-3.08,
-2.84,-2.60,-2.38,-2.20,-2.06,-1.94,-1.85,-1.78,-1.72,-1.67,-1.62,-1.59,-1.56,-1.53,-1.50,-1.48,-1.46,-1.44,-1.42,-1.41,-1.39,-1.38,-1.37,-1.35,-1.34,-1.33,-1.32,-1.31,-1.29,-1.28,-1.27,-1.26,-1.25,-1.24,-1.23,-1.21,-1.20,-1.19,-1.18,-1.16,-1.15,-1.13,-1.12,-1.10,-1.08,-1.06,-1.04,-1.02,-.99,-.96,-.92,-.88,-.83,-.77,-.69,-.60,-.49,-.34,-.16,.06,
.30,.54,.76,.94,1.09,1.20,1.29,1.37,1.43,1.48,1.52,1.56,1.59,1.62,1.64,1.66,1.68,1.70,1.72,1.73,1.75,1.76,1.78,1.79,1.80,1.81,1.83,1.84,1.85,1.86,1.87,1.88,1.89,1.90,1.92,1.93,1.94,1.95,1.96,1.98,1.99,2.01,2.02,2.04,2.06,2.08,2.10,2.13,2.15,2.19,2.22,2.27,2.32,2.38,2.45,2.54,2.66,2.80,2.98,-3.08,
-2.84,-2.60,-2.38,-2.20,-2.06,-1.94,-1.85,-1.78,-1.72,-1.67,-1.62,-1.59,-1.56,-1.53,-1.50,-1.48,-1.46,-1.44,-1.42,-1.41,-1.39,-1.38,-1.37,-1.35,-1.34,-1.33,-1.32,-1.31,-1.29,-1.28,-1.27];

const tlmPhaseC = [2.17,2.22,2.27,2.33,2.40,2.49,2.61,2.75,2.93,-3.13,
-2.89,-2.65,-2.43,-2.25,-2.11,-1.99,-1.90,-1.83,-1.77,-1.72,-1.67,-1.64,-1.61,-1.58,-1.55,-1.53,-1.51,-1.49,-1.47,-1.46,-1.44,-1.43,-1.42,-1.40,-1.39,-1.38,-1.37,-1.36,-1.34,-1.33,-1.32,-1.31,-1.30,-1.29,-1.28,-1.26,-1.25,-1.24,-1.23,-1.21,-1.20,-1.18,-1.17,-1.15,-1.13,-1.11,-1.09,-1.07,-1.04,-1.01,-.97,-.93,-.88,-.82,-.74,-.65,-.54,-.39,-.21,.01,
.25,.49,.71,.89,1.04,1.15,1.24,1.32,1.38,1.43,1.47,1.51,1.54,1.57,1.59,1.61,1.63,1.65,1.67,1.68,1.70,1.71,1.73,1.74,1.75,1.76,1.78,1.79,1.80,1.81,1.82,1.83,1.84,1.85,1.87,1.88,1.89,1.90,1.91,1.93,1.94,1.96,1.97,1.99,2.01,2.03,2.05,2.08,2.10,2.14,2.17,2.22,2.27,2.33,2.40,2.49,2.61,2.75,2.93,-3.13,
-2.89,-2.65,-2.43,-2.25,-2.11,-1.99,-1.90,-1.83,-1.77,-1.72,-1.67,-1.64,-1.61,-1.58,-1.55,-1.53,-1.51,-1.49,-1.47,-1.46,-1.44,-1.43,-1.42,-1.40,-1.39,-1.38,-1.37,-1.36,-1.34,-1.33,-1.32,-1.31,-1.30,-1.29,-1.28,-1.26,-1.25,-1.24,-1.23,-1.21,-1.20,-1.18,-1.17,-1.15,-1.13,-1.11,-1.09,-1.07,-1.04,-1.01,-.97,-.93,-.88,-.82,-.74,-.65,-.54,-.39,-.21,.01,
.25,.49,.71,.89,1.04,1.15,1.24,1.32,1.38,1.43,1.47,1.51,1.54,1.57,1.59,1.61,1.63,1.65,1.67,1.68,1.70,1.71,1.73,1.74,1.75,1.76,1.78,1.79,1.80,1.81,1.82,1.83,1.84,1.85,1.87,1.88,1.89,1.90,1.91,1.93,1.94,1.96,1.97,1.99,2.01,2.03,2.05,2.08,2.10,2.14,2.17,2.22,2.27,2.33,2.40,2.49,2.61,2.75,2.93,-3.13,
-2.89,-2.65,-2.43,-2.25,-2.11,-1.99,-1.90,-1.83,-1.77,-1.72,-1.67,-1.64,-1.61,-1.58,-1.55,-1.53,-1.51,-1.49,-1.47,-1.46,-1.44,-1.43,-1.42,-1.40,-1.39,-1.38,-1.37,-1.36,-1.34,-1.33,-1.32,-1.31,-1.30,-1.29,-1.28,-1.26,-1.25,-1.24,-1.23,-1.21,-1.20,-1.18,-1.17,-1.15,-1.13,-1.11,-1.09,-1.07,-1.04,-1.01,-.97,-.93,-.88,-.82,-.74,-.65,-.54,-.39,-.21,.01,
.25,.49,.71,.89,1.04,1.15,1.24,1.32,1.38,1.43,1.47,1.51,1.54,1.57,1.59,1.61,1.63,1.65,1.67,1.68,1.70,1.71,1.73,1.74,1.75,1.76,1.78,1.79,1.80,1.81,1.82,1.83,1.84,1.85,1.87,1.88,1.89,1.90,1.91,1.93,1.94,1.96,1.97,1.99,2.01,2.03,2.05,2.08,2.10,2.14,2.17,2.22,2.27,2.33,2.40,2.49,2.61,2.75,2.93,-3.13,
-2.89,-2.65,-2.43,-2.25,-2.11,-1.99,-1.90,-1.83,-1.77,-1.72,-1.67,-1.64,-1.61,-1.58,-1.55,-1.53,-1.51,-1.49,-1.47,-1.46,-1.44,-1.43,-1.42,-1.40,-1.39,-1.38,-1.37,-1.36,-1.34,-1.33,-1.32];

// ---- Figure layout ----
const FONT = '"Liberation Sans", Arial, Helvetica, sans-serif';
const COLOR_TLM = "#ff00ff";
const COLOR_FEKO = "#00ff00";
const frames = [
  { l: 101, r: 558,  t: 73,  b: 276, labX: 42 },
  { l: 703, r: 1158, t: 73,  b: 276, labX: 656 },
  { l: 101, r: 558,  t: 392, b: 594, labX: 33 },
  { l: 703, r: 1158, t: 392, b: 594, labX: 656 },
  { l: 101, r: 558,  t: 711, b: 913, labX: 33 },
  { l: 703, r: 1158, t: 711, b: 913, labX: 656 }
];
const legendBox = { x: 552, y: 7, w: 159, h: 79 };

const panels = [
  { title: titles[0], ylabel: yLabelModule, yDomain: [0, 0.4],  yTicks: modATicks,  yTickLabels: modATickLabels,  tlm: tlmModA,   feko: fekoModA },
  { title: titles[1], ylabel: yLabelPhase,  yDomain: [-5, 5],   yTicks: phaseTicks, yTickLabels: phaseTickLabels, tlm: tlmPhaseA, feko: fekoPhaseA },
  { title: titles[2], ylabel: yLabelModule, yDomain: [0, 0.1],  yTicks: modBTicks,  yTickLabels: modBTickLabels,  tlm: tlmModB,   feko: fekoModB },
  { title: titles[3], ylabel: yLabelPhase,  yDomain: [-5, 5],   yTicks: phaseTicks, yTickLabels: phaseTickLabels, tlm: tlmPhaseB, feko: fekoPhaseB },
  { title: titles[4], ylabel: yLabelModule, yDomain: [0, 0.03], yTicks: modCTicks,  yTickLabels: modCTickLabels,  tlm: tlmModC,   feko: fekoModC },
  { title: titles[5], ylabel: yLabelPhase,  yDomain: [-5, 5],   yTicks: phaseTicks, yTickLabels: phaseTickLabels, tlm: tlmPhaseC, feko: fekoPhaseC }
];

const svg = d3.select("#fig");
svg.append("rect").attr("width", 1185).attr("height", 978).attr("fill", "#fff");

function styleAxis(sel) {
  sel.select(".domain").remove();
  sel.attr("font-family", FONT).attr("font-size", 22);
  sel.selectAll("line").attr("stroke", "#000").attr("shape-rendering", "crispEdges");
  sel.selectAll("text").attr("fill", "#000");
}

function drawPanel(p, f) {
  const x = d3.scaleLinear().domain([0, X_MAX]).range([f.l, f.r]);
  const y = d3.scaleLinear().domain(p.yDomain).range([f.b, f.t]);
  const g = svg.append("g");

  // dotted grid
  const grid = g.append("g").attr("stroke", "#808080").attr("stroke-dasharray", "1,2").attr("stroke-width", 1)
    .attr("shape-rendering", "crispEdges");
  grid.selectAll(".gx").data(xTickValues.filter(v => v > 0 && v < X_MAX)).join("line").attr("class", "gx")
    .attr("x1", d => x(d)).attr("x2", d => x(d)).attr("y1", f.t).attr("y2", f.b);
  grid.selectAll(".gy").data(p.yTicks.filter(v => v > p.yDomain[0] && v < p.yDomain[1])).join("line").attr("class", "gy")
    .attr("x1", f.l).attr("x2", f.r).attr("y1", d => y(d)).attr("y2", d => y(d));

  // frame and ticks (inward)
  g.append("rect").attr("x", f.l).attr("y", f.t).attr("width", f.r - f.l).attr("height", f.b - f.t)
    .attr("fill", "none").attr("stroke", "#000").attr("shape-rendering", "crispEdges");
  g.append("g").attr("transform", `translate(0,${f.b})`)
    .call(d3.axisBottom(x).tickValues(xTickValues).tickFormat((d, i) => xTickLabels[i])
      .tickSizeInner(-5).tickSizeOuter(0).tickPadding(15.5))
    .call(styleAxis);
  g.append("g").attr("transform", `translate(0,${f.t})`)
    .call(d3.axisTop(x).tickValues(xTickValues).tickFormat(() => "").tickSizeInner(-5).tickSizeOuter(0))
    .call(styleAxis);
  const left = g.append("g").attr("transform", `translate(${f.l},0)`)
    .call(d3.axisLeft(y).tickValues(p.yTicks).tickFormat((d, i) => p.yTickLabels[i])
      .tickSizeInner(-5).tickSizeOuter(0).tickPadding(8))
    .call(styleAxis);
  left.selectAll("text").attr("dy", "0.5em");
  // a tick label sitting under the legend box is hidden by it, so it is left out
  left.selectAll(".tick").each(function (d) {
    const ty = y(d);
    if (f.l - 40 < legendBox.x + legendBox.w && f.l > legendBox.x &&
        ty > legendBox.y && ty < legendBox.y + legendBox.h) {
      d3.select(this).select("text").remove();
    }
  });
  g.append("g").attr("transform", `translate(${f.r},0)`)
    .call(d3.axisRight(y).tickValues(p.yTicks).tickFormat(() => "").tickSizeInner(-5).tickSizeOuter(0))
    .call(styleAxis);

  // series: TLM (line + circles) then Feko (thick line)
  const xAt = arr => (d, i) => x(i * X_MAX / (arr.length - 1));
  g.append("path").datum(p.tlm)
    .attr("d", d3.line().x(xAt(p.tlm)).y(d => y(d)))
    .attr("fill", "none").attr("stroke", COLOR_TLM).attr("stroke-width", 1);
  g.append("g").selectAll("circle").data(p.tlm).join("circle")
    .attr("cx", xAt(p.tlm)).attr("cy", d => y(d)).attr("r", 3.3)
    .attr("fill", "none").attr("stroke", COLOR_TLM).attr("stroke-width", 1);
  g.append("path").datum(p.feko)
    .attr("d", d3.line().x(xAt(p.feko)).y(d => y(d)))
    .attr("fill", "none").attr("stroke", COLOR_FEKO).attr("stroke-width", 4)
    .attr("stroke-linejoin", "round");

  // texts
  const cx = (f.l + f.r) / 2;
  g.append("text").attr("x", cx).attr("y", f.t - 17).attr("text-anchor", "middle")
    .attr("font-family", FONT).attr("font-size", 22.5).attr("letter-spacing", 0.7).text(p.title);
  g.append("text").attr("x", cx).attr("y", f.b + 58).attr("text-anchor", "middle")
    .attr("font-family", FONT).attr("font-size", 22.5).attr("letter-spacing", 0.7).text(xLabel);
  g.append("text").attr("transform", `translate(${f.labX},${(f.t + f.b) / 2}) rotate(-90)`)
    .attr("text-anchor", "middle").attr("font-family", FONT).attr("font-size", 22.5)
    .attr("letter-spacing", 0.7).text(p.ylabel);
}

panels.forEach((p, k) => drawPanel(p, frames[k]));

// legend
const lg = svg.append("g").attr("font-family", FONT).attr("font-size", 22.5);
lg.append("rect").attr("x", legendBox.x).attr("y", legendBox.y).attr("width", legendBox.w).attr("height", legendBox.h)
  .attr("fill", "#fff").attr("stroke", "#000").attr("shape-rendering", "crispEdges");
lg.append("line").attr("x1", 567).attr("x2", 638).attr("y1", 28).attr("y2", 28)
  .attr("stroke", COLOR_TLM).attr("stroke-width", 1);
lg.append("circle").attr("cx", 602.5).attr("cy", 28).attr("r", 3.3)
  .attr("fill", "none").attr("stroke", COLOR_TLM);
lg.append("text").attr("x", 647).attr("y", 38).text(seriesNames[0]);
lg.append("line").attr("x1", 567).attr("x2", 638).attr("y1", 63).attr("y2", 63)
  .attr("stroke", COLOR_FEKO).attr("stroke-width", 4);
lg.append("text").attr("x", 647).attr("y", 73).text(seriesNames[1]);
</script>
</body>
</html>
